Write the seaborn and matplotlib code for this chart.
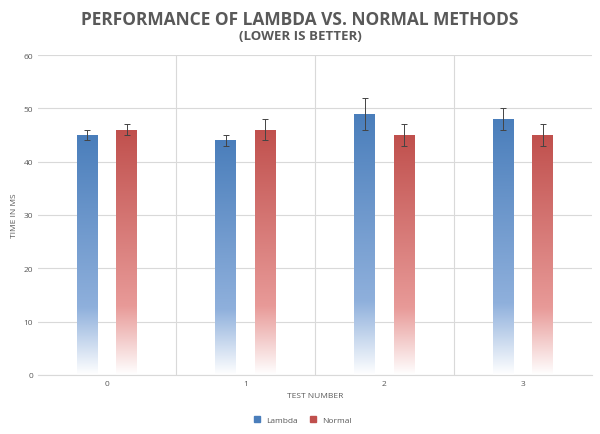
import numpy as np
import pandas as pd
import matplotlib
matplotlib.use("Agg")
import matplotlib.pyplot as plt
import seaborn as sns
from matplotlib.colors import LinearSegmentedColormap

tests = ["0", "1", "2", "3"]
lambda_vals = [45, 44, 49, 48]
lambda_err = [1, 1, 3, 2]
normal_vals = [46, 46, 45, 45]
normal_err = [1, 2, 2, 2]

plt.rcParams["font.family"] = "Open Sans"
df = pd.DataFrame({
    "test": tests * 2,
    "value": lambda_vals + normal_vals,
    "method": ["Lambda"] * 4 + ["Normal"] * 4,
})
blue = "#4a7ebb"
red = "#c0504d"

fig = plt.figure(figsize=(6, 4.35), dpi=100)
ax = fig.add_axes([0.063, 0.136, 0.924, 0.735])
sns.barplot(data=df, x="test", y="value", hue="method", palette=[blue, red],
            width=0.57, gap=0.47, errorbar=None, ax=ax, legend=False)

cmaps = {
    blue: LinearSegmentedColormap.from_list("b", [(0, "#ffffff"), (0.28, "#8fb0dc"), (1, blue)]),
    red: LinearSegmentedColormap.from_list("r", [(0, "#ffffff"), (0.28, "#e89a98"), (1, red)]),
}
grad = np.linspace(0, 1, 256).reshape(-1, 1)
for i, p in enumerate(ax.patches):
    col = blue if i < 4 else red
    x0, w, h = p.get_x(), p.get_width(), p.get_height()
    p.set_facecolor("none")
    im = ax.imshow(grad, cmap=cmaps[col], origin="lower", aspect="auto",
                   extent=[x0, x0 + w, 0, h], zorder=2)
    im.set_clip_path(p)
    vals, errs = (lambda_vals, lambda_err) if i < 4 else (normal_vals, normal_err)
    ax.errorbar(x0 + w / 2, vals[i % 4], yerr=errs[i % 4], color="#444444",
                lw=0.7, capsize=2.5, capthick=0.7, zorder=3)

ax.set_xlim(-0.5, 3.5)
ax.set_ylim(0, 60)
ax.set_yticks(range(0, 61, 10))
ax.set_xticks(range(4))
ax.set_xticklabels(tests)
for b in [0.5, 1.5, 2.5]:
    ax.axvline(b, color="#d9d9d9", lw=0.8, zorder=0)
ax.grid(axis="y", color="#d9d9d9", lw=0.8)
ax.set_axisbelow(True)
for s in ["top", "right", "left"]:
    ax.spines[s].set_visible(False)
ax.spines["bottom"].set_color("#d9d9d9")
ax.tick_params(length=0, labelsize=6, colors="#595959")
ax.set_xlabel("TEST NUMBER", fontsize=6, color="#595959")
ax.set_ylabel("TIME IN MS", fontsize=6, color="#595959")

fig.text(0.5, 0.955, "PERFORMANCE OF LAMBDA VS. NORMAL METHODS", ha="center", va="center",
         fontsize=12.5, fontweight="bold", color="#595959")
fig.text(0.5, 0.915, "(LOWER IS BETTER)", ha="center", va="center",
         fontsize=9.5, fontweight="bold", color="#595959")

from matplotlib.lines import Line2D
handles = [Line2D([], [], marker="s", ls="", color=blue, markersize=4),
           Line2D([], [], marker="s", ls="", color=red, markersize=4)]
leg = fig.legend(handles, ["Lambda", "Normal"], loc="center", bbox_to_anchor=(0.5, 0.033),
                 ncol=2, frameon=False, fontsize=6, handletextpad=0.1, columnspacing=0.8)
for t in leg.get_texts():
    t.set_color("#595959")
fig.savefig("out.png", dpi=100)
